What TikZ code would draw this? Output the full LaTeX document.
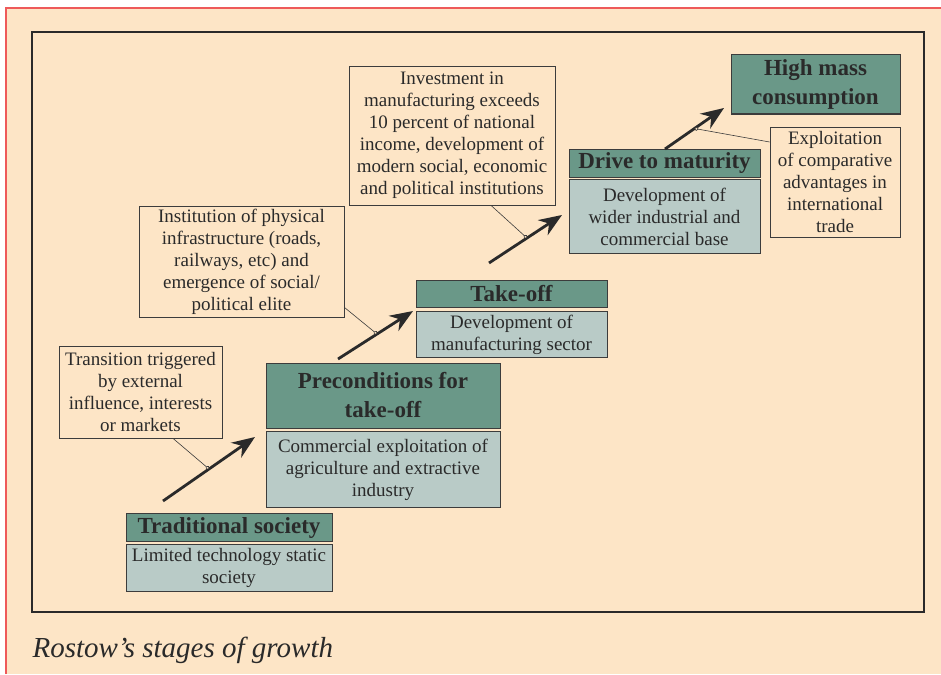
\documentclass[tikz,border=0pt]{standalone}
\usepackage{fontspec}
\setmainfont{Liberation Serif}
\usetikzlibrary{arrows.meta,calc}

\definecolor{peach}{HTML}{FDE5C6}
\definecolor{stagegreen}{HTML}{6A9888}
\definecolor{stagegrey}{HTML}{B9CBC7}
\definecolor{edgegrey}{HTML}{3C3C3C}
\definecolor{pagered}{HTML}{EE5A5A}
\definecolor{inkgrey}{HTML}{2A2A2A}

\tikzset{
  stagetitle/.style={draw=edgegrey, fill=stagegreen, line width=1pt, inner sep=0pt,
    align=center, text=inkgrey, font=\fontsize{23}{29}\selectfont\bfseries},
  stagedesc/.style={draw=edgegrey, fill=stagegrey, line width=1pt, inner sep=0pt,
    align=center, text=inkgrey, font=\fontsize{19}{22}\selectfont},
  notebox/.style={draw=edgegrey, fill=peach, line width=0.8pt, inner sep=0pt,
    align=center, text=inkgrey, font=\fontsize{19}{22}\selectfont},
  stagearrow/.style={-{Stealth[length=23pt,width=18pt]}, line width=2.8pt, inkgrey},
  noteline/.style={edgegrey, line width=0.6pt, -{Circle[open, length=4pt, fill=peach]}},
}

\begin{document}
\begin{tikzpicture}[x=1pt, y=-1pt]
%% 1 unit = 1 px of the 941 x 674 page, y runs downwards
\useasboundingbox (0,0) rectangle (941,674);
\fill[white] (0,0) rectangle (941,674);
\fill[peach] (6,8) rectangle (941,674);
\draw[pagered, line width=1.2pt] (6,674) -- (6,8) -- (941,8);

%% ---- Frame ----
\draw[line width=2.5pt, inkgrey] (32,32) rectangle (924,612);

%% ---- Stages (title over description) ----
\node[stagetitle, minimum width=206pt, minimum height=28pt] (trad) at (229,527.5)
  {Traditional society};
\node[stagedesc, minimum width=206pt, minimum height=47pt, anchor=north] (tradd) at (229,544)
  {Limited technology static\\society};

\node[stagetitle, minimum width=234pt, minimum height=65pt] (pre) at (383,395.5)
  {Preconditions for\\take-off};
\node[stagedesc, minimum width=234pt, minimum height=76pt, anchor=north] (pred) at (383,431)
  {Commercial exploitation of\\agriculture and extractive\\industry};

\node[stagetitle, minimum width=191pt, minimum height=27pt] (take) at (511.5,293.5)
  {Take-off};
\node[stagedesc, minimum width=191pt, minimum height=46pt, anchor=north] (taked) at (511.5,311)
  {Development of\\manufacturing sector};

\node[stagetitle, minimum width=191pt, minimum height=28pt] (drive) at (664.5,163)
  {Drive to maturity};
\node[stagedesc, minimum width=191pt, minimum height=74pt, anchor=north] (drived) at (664.5,179)
  {Development of\\wider industrial and\\commercial base};

\node[stagetitle, minimum width=169pt, minimum height=59pt] (high) at (815.5,84.5)
  {High mass\\consumption};

%% ---- Notes ----
\node[notebox, minimum width=163pt, minimum height=92pt] (trans) at (140.5,392)
  {Transition triggered\\by external\\influence, interests\\or markets};
\node[notebox, minimum width=205pt, minimum height=111pt] (inst) at (241.5,261.5)
  {Institution of physical\\infrastructure (roads,\\railways, etc) and\\emergence of social/\\political elite};
\node[notebox, minimum width=206pt, minimum height=139pt] (invest) at (452,135.5)
  {Investment in\\manufacturing exceeds\\10 percent of national\\income, development of\\modern social, economic\\and political institutions};
\node[notebox, minimum width=130pt, minimum height=110pt] (exploit) at (835,182)
  {Exploitation\\of comparative\\advantages in\\international\\trade};

%% ---- Arrows between stages ----
\coordinate (a1s) at (163,501); \coordinate (a1e) at (255,437);
\coordinate (a2s) at (338,359); \coordinate (a2e) at (413,311);
\coordinate (a3s) at (489,263); \coordinate (a3e) at (562,215);
\coordinate (a4s) at (665,149); \coordinate (a4e) at (724,108);
\foreach \n in {1,...,4}
  \draw[stagearrow] (a\n s) -- (a\n e);

%% ---- Note pointers ----
\draw[noteline] ([xshift=32.5pt]trans.south) -- ($(a1s)!0.5!(a1e)$);
\draw[noteline] ([yshift=10pt]inst.south east) -- ($(a2s)!0.52!(a2e)$);
\draw[noteline] ([xshift=39pt]invest.south) -- ($(a3s)!0.52!(a3e)$);
\draw[noteline] ([yshift=40pt]exploit.west) -- ($(a4s)!0.5!(a4e)$);

%% ---- Caption ----
\node[anchor=base west, text=inkgrey, font=\fontsize{29}{33}\selectfont\itshape] (caption)
  at (29,657) {Rostow’s stages of growth};
\end{tikzpicture}
\end{document}
